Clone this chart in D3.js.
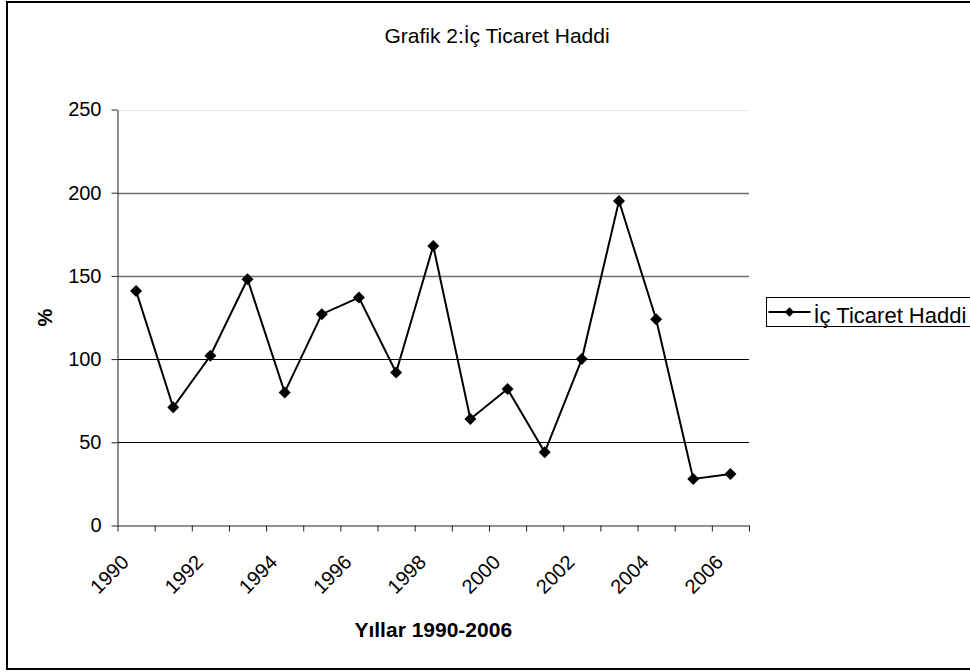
<!DOCTYPE html>
<html>
<head>
<meta charset="utf-8">
<script src="https://cdn.jsdelivr.net/npm/d3@7"></script>
<style>
  body { margin: 0; background: #fff; }
  svg { display: block; font-family: "Liberation Sans", Arial, sans-serif; }
</style>
</head>
<body>
<svg id="chart"></svg>
<script>
/* data */
const years = [1990, 1991, 1992, 1993, 1994, 1995, 1996, 1997, 1998,
               1999, 2000, 2001, 2002, 2003, 2004, 2005, 2006];
const values = [141, 71, 102, 148, 80, 127, 137, 92, 168,
                64, 82, 44, 100, 195, 124, 28, 31];
const yTicks = [0, 50, 100, 150, 200, 250];
const seriesName = "İç Ticaret Haddi";
const title = "Grafik 2:İç Ticaret Haddi";
const xTitle = "Yıllar 1990-2006";
const yTitle = "%";

const W = 970, H = 672;
const plot = { left: 117.5, right: 749, top: 109.5, bottom: 525.5 };

const svg = d3.select("#chart").attr("width", W).attr("height", H);

/* outer frame (right edge runs off the picture) */
svg.append("rect")
  .attr("x", 7).attr("y", 2)
  .attr("width", 1000).attr("height", 667)
  .attr("fill", "#fff").attr("stroke", "#000").attr("stroke-width", 2);

/* scales */
const x = d3.scaleBand().domain(years).range([plot.left, plot.right]).padding(0);
const xEdge = d3.scaleLinear().domain([0, years.length]).range([plot.left, plot.right]);
const y = d3.scaleLinear().domain([0, 250]).range([plot.bottom, plot.top]);

/* gridlines */
svg.append("g")
  .selectAll("line")
  .data(yTicks.filter(d => d > 0))
  .join("line")
  .attr("x1", plot.left).attr("x2", plot.right)
  .attr("y1", d => Math.round(y(d)) + 0.5).attr("y2", d => Math.round(y(d)) + 0.5)
  .attr("stroke", d => d === 250 ? "#e4e4e4" : (d >= 150 ? "#6e6e6e" : "#000"))
  .attr("stroke-width", d => (d >= 150 && d < 250) ? 1.5 : 1);

/* y axis */
const yAxis = svg.append("g")
  .attr("transform", `translate(${plot.left},0)`)
  .call(d3.axisLeft(y).tickValues(yTicks).tickSize(6).tickSizeOuter(0).tickPadding(10));
yAxis.selectAll("text").attr("font-size", 20).attr("fill", "#000").attr("font-family", null);
yAxis.selectAll("line, path").attr("stroke", "#222");

/* x axis: tick marks on category edges */
const xAxisTicks = svg.append("g")
  .attr("transform", `translate(0,${plot.bottom})`)
  .call(d3.axisBottom(xEdge).tickValues(d3.range(years.length + 1))
    .tickFormat("").tickSize(6).tickSizeOuter(0));
xAxisTicks.selectAll("line, path").attr("stroke", "#222");

/* x axis: labels on every other category, rotated */
const xAxisLabels = svg.append("g")
  .attr("transform", `translate(0,${plot.bottom})`)
  .call(d3.axisBottom(x).tickSize(0)
    .tickFormat(d => (d % 2 === 0 ? d : "")));
xAxisLabels.select(".domain").remove();
xAxisLabels.selectAll("text")
  .attr("font-size", 20).attr("fill", "#000").attr("font-family", null)
  .attr("x", 0).attr("y", 0).attr("dy", null)
  .attr("text-anchor", "end")
  .attr("transform", "translate(-6,38) rotate(-45)");

/* line + markers */
const line = d3.line()
  .x((d, i) => x(years[i]) + x.bandwidth() / 2)
  .y(d => y(d));

svg.append("path")
  .datum(values)
  .attr("fill", "none")
  .attr("stroke", "#000")
  .attr("stroke-width", 2)
  .attr("d", line);

const diamond = d3.symbol().type(d3.symbolSquare).size(72);
svg.append("g")
  .selectAll("path")
  .data(values)
  .join("path")
  .attr("d", diamond)
  .attr("transform", (d, i) => `translate(${x(years[i]) + x.bandwidth() / 2},${y(d)}) rotate(45)`)
  .attr("fill", "#000");

/* titles */
svg.append("text")
  .attr("x", 497).attr("y", 43)
  .attr("text-anchor", "middle")
  .attr("font-size", 21)
  .text(title);

svg.append("text")
  .attr("x", (plot.left + plot.right) / 2).attr("y", 637)
  .attr("text-anchor", "middle")
  .attr("font-size", 21).attr("font-weight", "bold")
  .text(xTitle);

svg.append("text")
  .attr("transform", `translate(52,${(plot.top + plot.bottom) / 2}) rotate(-90)`)
  .attr("text-anchor", "middle")
  .attr("font-size", 20).attr("font-weight", "bold")
  .text(yTitle);

/* legend (cut off at the right edge like the original) */
const legend = svg.append("g").attr("transform", "translate(766.5,297.5)");
legend.append("rect")
  .attr("width", 260).attr("height", 29)
  .attr("fill", "#fff").attr("stroke", "#000").attr("stroke-width", 1);
legend.append("line")
  .attr("x1", 2).attr("x2", 44).attr("y1", 14.5).attr("y2", 14.5)
  .attr("stroke", "#000").attr("stroke-width", 2);
legend.append("path")
  .attr("d", d3.symbol().type(d3.symbolSquare).size(44))
  .attr("transform", "translate(23,14.5) rotate(45)")
  .attr("fill", "#000");
legend.append("text")
  .attr("x", 47).attr("y", 25.5)
  .attr("font-size", 22)
  .text(seriesName);
</script>
</body>
</html>
